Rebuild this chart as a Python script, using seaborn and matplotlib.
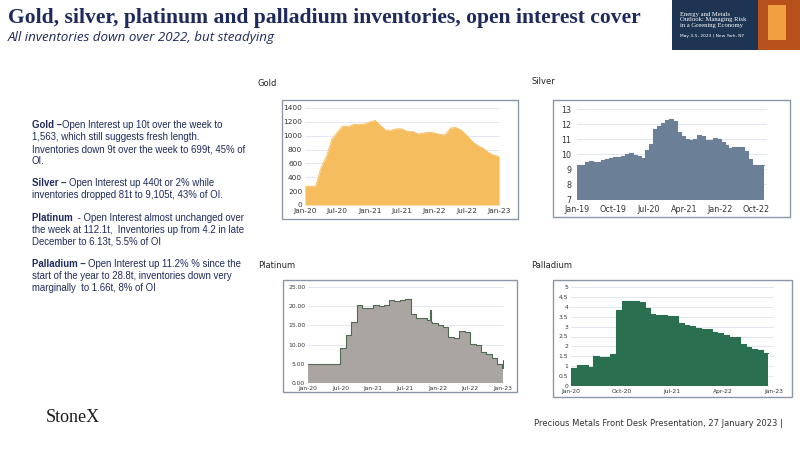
import matplotlib
matplotlib.use("Agg")
import matplotlib.pyplot as plt
import seaborn as sns
import pandas as pd

sns.set_theme(style="white")
plt.rcParams['font.family'] = ['DejaVu Sans']

gold_start = "2020-01-01"
gold_vals = [270, 270, 275, 540, 700, 950, 1050, 1140, 1130, 1165, 1160, 1170, 1200, 1220, 1150, 1080,
             1080, 1100, 1100, 1060, 1060, 1025, 1040, 1050, 1040, 1020, 1010, 1110, 1120, 1080,
             1010, 920, 860, 820, 760, 720, 700]
silver_start = "2019-01-01"
silver_vals = [9.25, 9.3, 9.5, 9.55, 9.5, 9.5, 9.6, 9.7, 9.75, 9.8, 9.8, 9.9, 10.0, 10.05, 9.95, 9.85,
               9.75, 10.3, 10.7, 11.7, 11.9, 12.1, 12.3, 12.35, 12.2, 11.5, 11.2, 11.0, 10.95, 11.0,
               11.3, 11.2, 10.95, 10.95, 11.05, 11.0, 10.8, 10.6, 10.4, 10.5, 10.5, 10.45, 10.2, 9.7,
               9.3, 9.25, 9.3, 9.3]
plat_dates = ["2020-01-01", "2020-02-01", "2020-03-01", "2020-04-01", "2020-05-01", "2020-06-01",
              "2020-07-01", "2020-08-01", "2020-09-01", "2020-10-01", "2020-11-01", "2020-12-01",
              "2021-01-01", "2021-02-01", "2021-03-01", "2021-04-01", "2021-05-01", "2021-06-01",
              "2021-07-01", "2021-08-01", "2021-09-01", "2021-10-01", "2021-11-01", "2021-11-20",
              "2021-11-25", "2021-12-01", "2022-01-01", "2022-02-01", "2022-03-01", "2022-04-01",
              "2022-05-01", "2022-06-01", "2022-07-01", "2022-08-01", "2022-09-01", "2022-10-01",
              "2022-11-01", "2022-12-01", "2022-12-25", "2023-01-05"]
plat_vals = [5.0, 5.0, 5.0, 4.9, 4.9, 5.0, 9.0, 12.5, 16.0, 20.3, 19.5, 19.5, 20.2, 20.0, 20.2, 21.5,
             21.3, 21.5, 22.0, 18.0, 16.8, 16.8, 16.5, 19.0, 15.8, 15.5, 15.0, 14.5, 12.0, 11.8, 13.5,
             13.3, 10.2, 10.0, 8.0, 7.5, 6.5, 5.0, 4.0, 6.1]
pall_start = "2020-01-01"
pall_vals = [0.9, 1.05, 1.05, 0.95, 1.5, 1.45, 1.45, 1.6, 3.85, 4.3, 4.3, 4.3, 4.25, 3.95, 3.65, 3.6,
             3.6, 3.55, 3.55, 3.2, 3.1, 3.05, 2.95, 2.9, 2.9, 2.75, 2.7, 2.6, 2.5, 2.45, 2.1, 1.95,
             1.85, 1.8, 1.65, 1.65]

W, H = 800, 450
fig = plt.figure(figsize=(8, 4.5), dpi=100)
fig.patch.set_facecolor("white")

def px_axes(x0, y0, x1, y1):
    return fig.add_axes([x0 / W, 1 - y1 / H, (x1 - x0) / W, (y1 - y0) / H])

def box(x0, y0, x1, y1):
    fig.add_artist(plt.Rectangle((x0 / W, 1 - y1 / H), (x1 - x0) / W, (y1 - y0) / H,
                                 transform=fig.transFigure, fill=False, ec="#8a97a8", lw=1))

def panel(rect, brect, dates, vals, color, edge, ylim, yticks, yfmt, xticks, step, fs=5, end_pad=20, pad=2):
    box(*brect)
    ax = px_axes(*rect)
    df = pd.DataFrame({"date": pd.to_datetime(dates), "v": vals})
    if step:
        ax.fill_between(df["date"], df["v"], step="post", color=color, lw=0)
        ax.step(df["date"], df["v"], where="post", color=edge, lw=0.8)
    else:
        ax.fill_between(df["date"], df["v"], color=color, lw=0)
        sns.lineplot(data=df, x="date", y="v", ax=ax, color=edge, lw=0.6)
    ax.set_xlim(df["date"].iloc[0], df["date"].iloc[-1] + pd.DateOffset(days=end_pad))
    ax.set_ylim(*ylim)
    ax.set_yticks(yticks)
    ax.set_yticklabels([yfmt(t) for t in yticks], fontsize=fs, color="#333333")
    xt = [pd.Timestamp(t) for t in xticks]
    ax.set_xticks(xt)
    ax.set_xticklabels([t.strftime("%b-%y") for t in xt], fontsize=fs, color="#333333")
    ax.grid(axis="y", color="#dde3f0", lw=0.6)
    ax.set_axisbelow(True)
    for s in ax.spines.values():
        s.set_visible(False)
    ax.tick_params(length=0, pad=pad)
    ax.set_xlabel(""); ax.set_ylabel("")
    return ax

panel((305, 108, 500, 205), (282, 100, 518, 219),
      pd.date_range(gold_start, periods=len(gold_vals), freq="MS"), gold_vals, "#f6bd5e", "#f6bd5e",
      (0, 1400), list(range(0, 1401, 200)), lambda t: f"{t:.0f}",
      ["2020-01-01", "2020-07-01", "2021-01-01", "2021-07-01", "2022-01-01", "2022-07-01", "2023-01-01"],
      False, fs=5.3, end_pad=5)
panel((577, 109, 767, 199), (553, 100, 790, 217),
      pd.date_range(silver_start, periods=len(silver_vals), freq="MS"), silver_vals, "#6b8096", "#6b8096",
      (7, 13), list(range(7, 14)), lambda t: f"{t:.0f}",
      ["2019-01-01", "2019-10-01", "2020-07-01", "2021-04-01", "2022-01-01", "2022-10-01"], True, fs=5.8, pad=4)
panel((308, 287, 504, 383), (283, 280, 517, 392), plat_dates, plat_vals, "#aaa5a1", "#4f6b4f",
      (0, 25), [0, 5, 10, 15, 20, 25], lambda t: f"{t:.2f}",
      ["2020-01-01", "2020-07-01", "2021-01-01", "2021-07-01", "2022-01-01", "2022-07-01", "2023-01-01"],
      True, fs=4.3, end_pad=3)
panel((571, 287, 774, 386), (553, 280, 792, 397),
      pd.date_range(pall_start, periods=len(pall_vals), freq="MS"), pall_vals, "#2a7050", "#2a7050",
      (0, 5), [0, 0.5, 1, 1.5, 2, 2.5, 3, 3.5, 4, 4.5, 5], lambda t: f"{t:g}",
      ["2020-01-01", "2020-10-01", "2021-07-01", "2022-04-01", "2023-01-01"], True, fs=4.3, end_pad=31)

navy = "#1f2a5c"
fig.text(8 / W, 1 - 18 / H, "Gold, silver, platinum and palladium inventories, open interest cover",
         family="Liberation Serif", fontweight="bold", fontsize=15.6, color=navy, va="center")
fig.text(8 / W, 1 - 37 / H, "All inventories down over 2022, but steadying",
         style="italic", fontsize=9.6, color=navy, va="center", family="Open Sans")

for x, y, t in [(258, 84, "Gold"), (531, 81, "Silver"), (258, 265, "Platinum"), (531, 265, "Palladium")]:
    fig.text(x / W, 1 - y / H, t, fontsize=6, color="#222222", va="center")

paras = [
    (125, "Gold –", "Open Interest up 10t over the week to\n1,563, which still suggests fresh length.\nInventories down 9t over the week to 699t, 45% of\nOI."),
    (183, "Silver – ", "Open Interest up 440t or 2% while\ninventories dropped 81t to 9,105t, 43% of OI."),
    (218, "Platinum ", " - Open Interest almost unchanged over\nthe week at 112.1t,  Inventories up from 4.2 in late\nDecember to 6.13t, 5.5% of OI"),
    (264, "Palladium – ", "Open Interest up 11.2% % since the\nstart of the year to 28.8t, inventories down very\nmarginally  to 1.66t, 8% of OI"),
]
fsz = 6.9
r = fig.canvas.get_renderer()
for y, b, rest in paras:
    bt = fig.text(32 / W, 1 - y / H, b, fontsize=fsz, fontweight="bold", color=navy, va="center",
                  family="Liberation Sans")
    bb = bt.get_window_extent(renderer=r)
    lines = rest.split("\n")
    fig.text(bb.x1 / W, 1 - y / H, lines[0], fontsize=fsz, color=navy, va="center", family="Liberation Sans")
    for i, ln in enumerate(lines[1:], 1):
        fig.text(32 / W, 1 - (y + 12 * i) / H, ln, fontsize=fsz, color=navy, va="center", family="Liberation Sans")

fig.text(46 / W, 1 - 418 / H, "StoneX", family="Liberation Serif", fontsize=13, color="#1a1a1a", va="center")
fig.text(534 / W, 1 - 423 / H, "Precious Metals Front Desk Presentation, 27 January 2023 |", fontsize=6,
         color="#333333", va="center")

fig.add_artist(plt.Rectangle((672 / W, 1 - 50 / H), 128 / W, 50 / H, transform=fig.transFigure,
                             color="#1d3452", lw=0))
fig.add_artist(plt.Rectangle((758 / W, 1 - 50 / H), 42 / W, 50 / H, transform=fig.transFigure,
                             color="#b8501c", lw=0))
fig.add_artist(plt.Rectangle((768 / W, 1 - 40 / H), 18 / W, 35 / H, transform=fig.transFigure,
                             color="#f0a040", lw=0))
fig.text(680 / W, 1 - 20 / H, "Energy and Metals\nOutlook: Managing Risk\nin a Greening Economy",
         family="Liberation Serif", fontsize=4.8, color="white", va="center", linespacing=1.2)
fig.text(680 / W, 1 - 36 / H, "May 3-5, 2023 | New York, NY", fontsize=3.2, color="white", va="center")

fig.savefig("out.png", dpi=100)
